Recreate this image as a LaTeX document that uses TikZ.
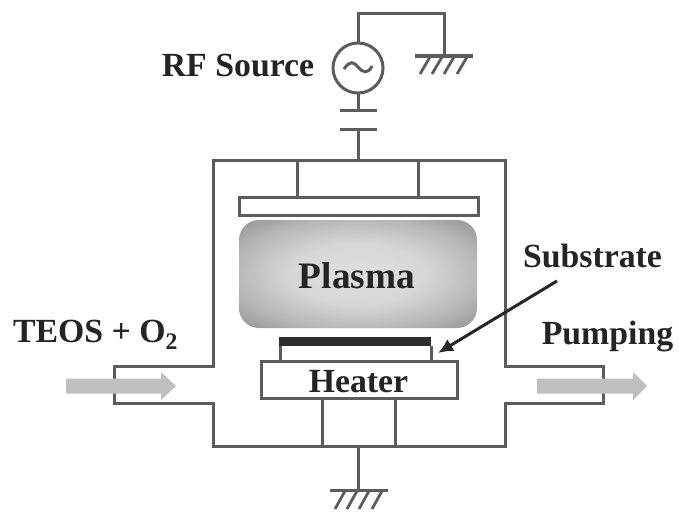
\documentclass[tikz,border=0pt]{standalone}
\usepackage{fontspec}
\setmainfont{Liberation Serif}
\usetikzlibrary{arrows.meta}
\definecolor{wire}{gray}{0.36}
\definecolor{ink}{gray}{0.14}
\definecolor{flow}{gray}{0.75}
\pgfdeclareradialshading{plasmashade}{\pgfpoint{0cm}{0cm}}{color(0cm)=(black!12);color(0.5cm)=(black!16);color(0.9cm)=(black!28);color(1.2cm)=(black!40);color(1.6cm)=(black!48);color(2cm)=(black!52)}
\tikzset{
  x=1pt,y=-1pt,
  wireline/.style={draw=wire,line width=3pt,line join=miter},
  lab/.style={text=ink,font=\bfseries\fontsize{33.8}{34}\selectfont,inner sep=0pt,anchor=base},
  flowarrow/.style={draw=none,fill=flow},
  hatch/.style={wire,line width=2.8pt},
}
\begin{document}
\begin{tikzpicture}
\useasboundingbox (0,0) rectangle (679,511);
\fill[white] (0,0) rectangle (679,511);
% plasma
\node[name=plasma,draw=none,rounded corners=20pt,minimum width=238pt,minimum height=108pt,shading=plasmashade,inner sep=0pt] at (358,274) {};
\node[lab,font=\bfseries\fontsize{37.3}{38}\selectfont] at (357,288) {Plasma};
% chamber
\draw[wireline] (213,160) -- (505,160) -- (505,366) -- (603,366) -- (603,403) -- (505,403) -- (505,446) -- (213,446) -- (213,403) -- (114,403) -- (114,366) -- (213,366) -- cycle;
% flow arrows
\path[flowarrow] (66,378.5) -- (161,378.5) -- (161,372) -- (176,386) -- (161,400) -- (161,393.5) -- (66,393.5) -- cycle;
\path[flowarrow] (537,378.5) -- (633,378.5) -- (633,372) -- (647,386) -- (633,400) -- (633,393.5) -- (537,393.5) -- cycle;
% top electrode
\node[name=plate,draw=wire,line width=3pt,minimum width=239pt,minimum height=18pt,inner sep=0pt,outer sep=0pt] at (358.5,206) {};
\draw[wireline] (297,160) -- (297,197);
\draw[wireline] (418,160) -- (418,197);
% capacitor & source
\draw[wireline] (358,160) -- (358,129);
\draw[wireline] (340,129) -- (377,129);
\draw[wireline] (340,110) -- (377,110);
\draw[wireline] (358,110) -- (358,93);
\node[name=src,circle,draw=wire,line width=3pt,minimum size=50pt,inner sep=0pt] at (358,68) {};
\draw[wire,line width=3pt] (344,69) .. controls (350,60) and (354,62) .. (358,67) .. controls (362,72) and (368,75) .. (372,66);
\draw[wireline] (358,43) -- (358,14) -- (444,14) -- (444,56);
% top ground
\draw[wireline] (415,56) -- (473,56);
\foreach \x in {430,442,454,467} \draw[hatch] (\x,57) -- (\x-10,74);
% substrate and heater
\fill[black!82] (279,337) rectangle (431,346);
\draw[wireline] (280,346) -- (280,361);
\draw[wireline] (431,346) -- (431,361);
\node[name=heater,draw=wire,line width=3pt,minimum width=196pt,minimum height=37pt,inner sep=0pt,outer sep=0pt] at (359,379.5) {};
\node[lab] at (358.5,392) {Heater};
\draw[wireline] (322,398) -- (322,446);
\draw[wireline] (395,398) -- (395,446);
% bottom ground
\draw[wireline] (358,446) -- (358,490);
\draw[wireline] (330,490) -- (388,490);
\foreach \x in {345,357,369,382} \draw[hatch] (\x,491) -- (\x-10,509);
% substrate pointer
\coordinate (ptrfrom) at (557,281);
\coordinate (ptrto) at (438,353);
\draw[black!85,line width=3pt,-{Latex[length=15pt,width=14pt]}] (ptrfrom) -- (ptrto);
% labels
\node[lab] at (238,76.5) {RF Source};
\node[lab] at (592.5,267) {Substrate};
\node[lab] at (607.5,344) {Pumping};
\node[lab] at (95.5,342) {TEOS + O\textsubscript{2}};
\end{tikzpicture}
\end{document}
